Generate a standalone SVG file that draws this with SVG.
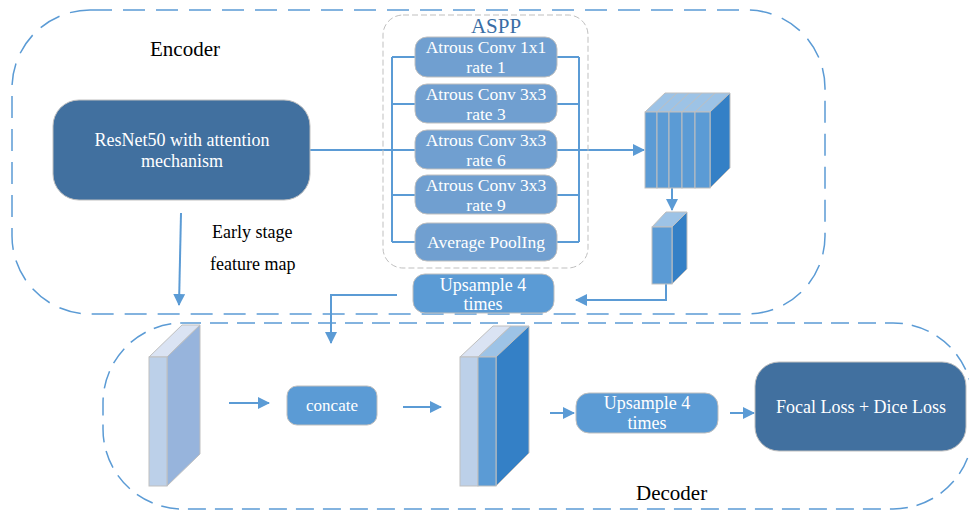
<svg xmlns="http://www.w3.org/2000/svg" width="969" height="510" viewBox="0 0 969 510">
<style>
.t{font-family:"Liberation Serif","Times New Roman",serif}
.lbl{font-size:21px;fill:#000}
.sm{font-size:18px;fill:#000}
.wt{fill:#fff;font-size:17.5px;text-anchor:middle}
.wt16{fill:#fff;font-size:18px;text-anchor:middle}
.region{fill:none;stroke:#5B9BD5;stroke-width:1.5}
.dark{fill:#41709F;stroke:#BFBFBF;stroke-width:1}
.mid{fill:#5B9BD5;stroke:#BFBFBF;stroke-width:1}
.aspp{fill:#709FD0;stroke:#BFBFBF;stroke-width:1}
.ln{fill:none;stroke:#5B9BD5;stroke-width:2}
.cf{fill:#5B9BD5;stroke:#BFBFBF;stroke-width:1}
.ct{fill:#9DC3E6;stroke:#BFBFBF;stroke-width:1}
.cr{fill:#3480C6;stroke:#BFBFBF;stroke-width:1}
</style>
<defs>
<marker id="ah" markerWidth="12" markerHeight="12" refX="11" refY="6" orient="auto" markerUnits="userSpaceOnUse">
<path d="M0,0 L12,6 L0,12 z" fill="#5B9BD5"/>
</marker>
</defs>

<g id="encoder">
<rect class="region" x="12" y="10" width="813" height="304" rx="78" ry="78" stroke-dasharray="22 11"/>
<text class="t lbl" x="150" y="56">Encoder</text>
</g>
<g id="decoder">
<rect class="region" x="103" y="323" width="870" height="186" rx="80" ry="80" stroke-dasharray="18 9"/>
<text class="t lbl" x="636" y="500">Decoder</text>
</g>

<g id="connectors">
<path class="ln" d="M310,150 H392"/>
<path class="ln" d="M392,57 V242"/>
<path class="ln" d="M392,57 H415 M392,104 H415 M392,150 H415 M392,195 H415 M392,242 H415"/>
<path class="ln" d="M557,57 H579 M557,104 H579 M557,150 H579 M557,195 H579 M557,242 H579"/>
<path class="ln" d="M579,57 V242"/>
<path class="ln" d="M579,150 H644" marker-end="url(#ah)"/>
<path class="ln" d="M672,188 V210" marker-end="url(#ah)"/>
<path class="ln" d="M666,284 V300 H576" marker-end="url(#ah)"/>
<path class="ln" d="M397,295 H331 V343" marker-end="url(#ah)"/>
<path class="ln" d="M181,213 L179,305" marker-end="url(#ah)"/>
<path class="ln" d="M229,403 H269" marker-end="url(#ah)"/>
<path class="ln" d="M403,407 H441" marker-end="url(#ah)"/>
<path class="ln" d="M550,413 H574" marker-end="url(#ah)"/>
<path class="ln" d="M730,413 H754" marker-end="url(#ah)"/>
</g>

<g id="resnet">
<rect class="dark" x="53" y="100" width="257" height="100" rx="26" ry="26"/>
<text class="t wt16" x="182" y="146">ResNet50 with attention</text>
<text class="t wt16" x="182" y="167">mechanism</text>
</g>

<g id="early-label">
<text class="t sm" x="212" y="238">Early stage</text>
<text class="t sm" x="210" y="270">feature map</text>
</g>

<g id="aspp">
<rect x="383" y="15" width="205" height="253" rx="20" ry="20" fill="none" stroke="#BFBFBF" stroke-width="1" stroke-dasharray="6 3"/>
<text class="t" x="496" y="33" font-size="21" fill="#3A6EA5" text-anchor="middle">ASPP</text>
</g>
<g id="aspp-conv1">
<rect class="aspp" x="415" y="37" width="142" height="40" rx="12" ry="12"/>
<text class="t wt" x="486" y="53">Atrous Conv 1x1</text>
<text class="t wt" x="486" y="73">rate 1</text>
</g>
<g id="aspp-conv3">
<rect class="aspp" x="415" y="84" width="142" height="39" rx="12" ry="12"/>
<text class="t wt" x="486" y="100">Atrous Conv 3x3</text>
<text class="t wt" x="486" y="120">rate 3</text>
</g>
<g id="aspp-conv6">
<rect class="aspp" x="415" y="130" width="142" height="39" rx="12" ry="12"/>
<text class="t wt" x="486" y="146">Atrous Conv 3x3</text>
<text class="t wt" x="486" y="166">rate 6</text>
</g>
<g id="aspp-conv9">
<rect class="aspp" x="415" y="175" width="142" height="39" rx="12" ry="12"/>
<text class="t wt" x="486" y="191">Atrous Conv 3x3</text>
<text class="t wt" x="486" y="211">rate 9</text>
</g>
<g id="aspp-pool">
<rect class="aspp" x="415" y="223" width="142" height="38" rx="12" ry="12"/>
<text class="t wt" x="486" y="248">Average PoolIng</text>
</g>

<g id="cube-concat">
<polygon class="ct" points="645,112 710,112 730,93 665,93"/>
<path d="M657,112 L677,93 M669,112 L689,93 M682,112 L702,93 M695,112 L715,93" stroke="#BFBFBF" stroke-width="1"/>
<polygon class="cr" points="710,112 730,93 730,168 710,188"/>
<rect class="cf" x="645" y="112" width="12" height="76"/>
<rect class="cf" x="657" y="112" width="12" height="76"/>
<rect class="cf" x="669" y="112" width="13" height="76"/>
<rect class="cf" x="682" y="112" width="13" height="76"/>
<rect class="cf" x="695" y="112" width="15" height="76"/>
</g>

<g id="cube-conv">
<polygon class="ct" points="652,227 672,227 687,212 666,212"/>
<polygon class="cr" points="672,227 687,212 687,269 672,284"/>
<rect class="cf" x="652" y="227" width="20" height="57"/>
</g>

<g id="upsample-enc">
<rect class="mid" x="413" y="274" width="141" height="39" rx="12" ry="12"/>
<text class="t wt16" x="483" y="291">Upsample 4</text>
<text class="t wt16" x="483" y="310">times</text>
</g>

<g id="slab-early">
<polygon points="149,357 167,357 200,325 182,325" fill="#DAE3F3" stroke="#BFBFBF" stroke-width="1"/>
<polygon points="167,357 200,325 200,454 167,486" fill="#97B4DC" stroke="#BFBFBF" stroke-width="1"/>
<rect x="149" y="357" width="18" height="129" fill="#BCD0E9" stroke="#BFBFBF" stroke-width="1"/>
</g>

<g id="concate">
<rect class="mid" x="287" y="386" width="90" height="39" rx="10" ry="10"/>
<text class="t" x="332" y="411" font-size="17" fill="#fff" text-anchor="middle">concate</text>
</g>

<g id="slab-merged">
<polygon points="460,357 478,357 511,326 493,326" fill="#DAE3F3" stroke="#BFBFBF" stroke-width="1"/>
<polygon points="478,357 496,357 529,326 511,326" fill="#9DC3E6" stroke="#BFBFBF" stroke-width="1"/>
<polygon points="496,357 529,326 529,453 496,486" fill="#3480C6" stroke="#BFBFBF" stroke-width="1"/>
<rect x="460" y="357" width="18" height="129" fill="#BCD0E9" stroke="#BFBFBF" stroke-width="1"/>
<rect x="478" y="357" width="18" height="129" fill="#5B9BD5" stroke="#BFBFBF" stroke-width="1"/>
</g>

<g id="upsample-dec">
<rect class="mid" x="576" y="393" width="142" height="40" rx="13" ry="13"/>
<text class="t wt16" x="647" y="409">Upsample 4</text>
<text class="t wt16" x="647" y="429">times</text>
</g>

<g id="loss">
<rect class="dark" x="755" y="362" width="211" height="89" rx="24" ry="24"/>
<text class="t wt16" x="861" y="413">Focal Loss + Dice Loss</text>
</g>
</svg>
